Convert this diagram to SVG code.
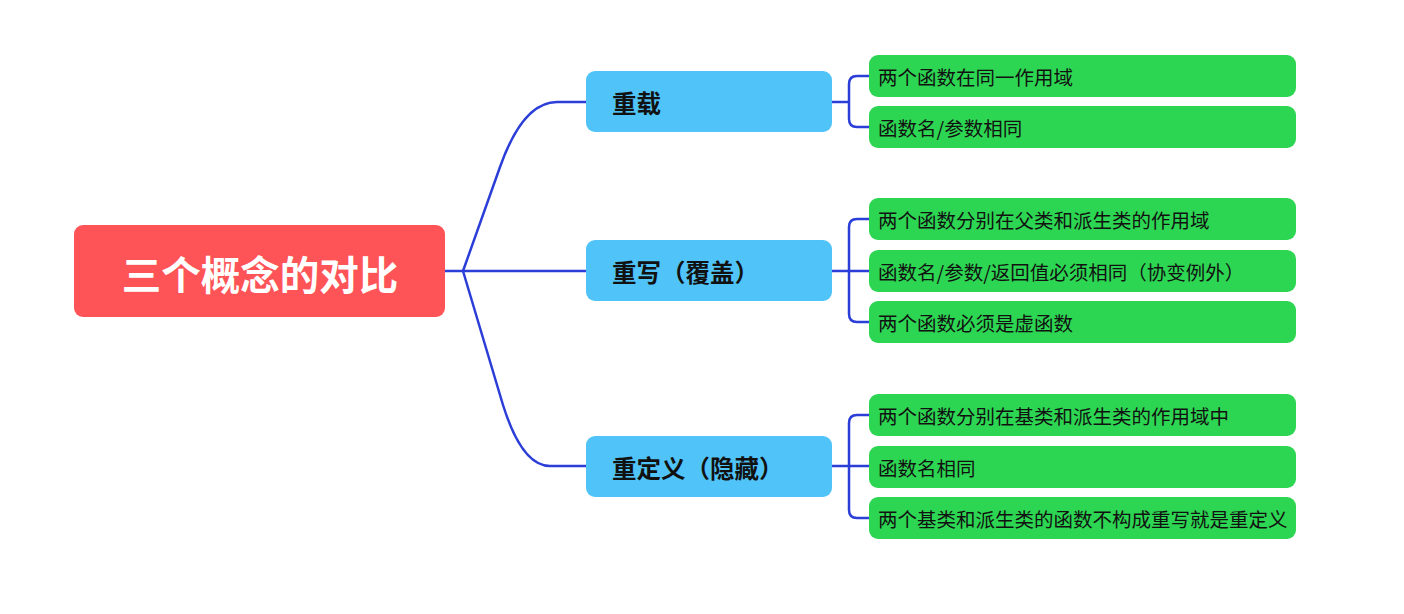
<svg xmlns="http://www.w3.org/2000/svg" width="1404" height="614" viewBox="0 0 1404 614">
<style>
text{font-family:"Noto Sans CJK SC","Noto Sans",sans-serif;dominant-baseline:central}
.root rect{fill:#FF5457}
.root text{fill:#fff;font-size:39.5px;font-weight:bold;text-anchor:middle}
.br rect{fill:#50C4F8}
.br text{fill:#111;font-size:24.5px;font-weight:bold}
.lf rect{fill:#2DD652}
.lf text{fill:#111;font-size:19.5px}
.con path{fill:none;stroke:#2B3ED8;stroke-width:2.5}
</style>
<rect width="1404" height="614" fill="#fff"/>
<g class="con">
<path d="M445,271 H586"/>
<path d="M463,271 L500,167 Q523,102 557,102 H586"/>
<path d="M463,271 L503,405 Q522,466 550,466 H586"/>
<path d="M832,102 H849"/>
<path d="M869,76 H857 Q849,76 849,84 V119 Q849,127 857,127 H869"/>
<path d="M832,271 H869"/>
<path d="M869,219 H857 Q849,219 849,227 V314 Q849,322 857,322 H869"/>
<path d="M832,466 H869"/>
<path d="M869,415 H857 Q849,415 849,423 V510 Q849,518 857,518 H869"/>
</g>
<g id="root" class="root"><rect x="74" y="225" width="371" height="92" rx="9"/><text x="260" y="272">三个概念的对比</text></g>
<g id="b1" class="br"><rect x="586" y="71" width="246" height="61" rx="9"/><text x="612" y="102">重载</text></g>
<g id="b2" class="br"><rect x="586" y="240" width="246" height="61" rx="9"/><text x="612" y="271">重写（覆盖）</text></g>
<g id="b3" class="br"><rect x="586" y="436" width="246" height="61" rx="9"/><text x="612" y="467">重定义（隐藏）</text></g>
<g id="l1" class="lf"><rect x="869" y="55" width="427" height="42" rx="9"/><text x="878" y="76">两个函数在同一作用域</text></g>
<g id="l2" class="lf"><rect x="869" y="106" width="427" height="42" rx="9"/><text x="878" y="127">函数名/参数相同</text></g>
<g id="l3" class="lf"><rect x="869" y="198" width="427" height="42" rx="9"/><text x="878" y="219">两个函数分别在父类和派生类的作用域</text></g>
<g id="l4" class="lf"><rect x="869" y="250" width="427" height="42" rx="9"/><text x="878" y="271">函数名/参数/返回值必须相同（协变例外）</text></g>
<g id="l5" class="lf"><rect x="869" y="301" width="427" height="42" rx="9"/><text x="878" y="322">两个函数必须是虚函数</text></g>
<g id="l6" class="lf"><rect x="869" y="394" width="427" height="42" rx="9"/><text x="878" y="415">两个函数分别在基类和派生类的作用域中</text></g>
<g id="l7" class="lf"><rect x="869" y="446" width="427" height="42" rx="9"/><text x="878" y="467">函数名相同</text></g>
<g id="l8" class="lf"><rect x="869" y="497" width="427" height="42" rx="9"/><text x="878" y="518">两个基类和派生类的函数不构成重写就是重定义</text></g>
</svg>
